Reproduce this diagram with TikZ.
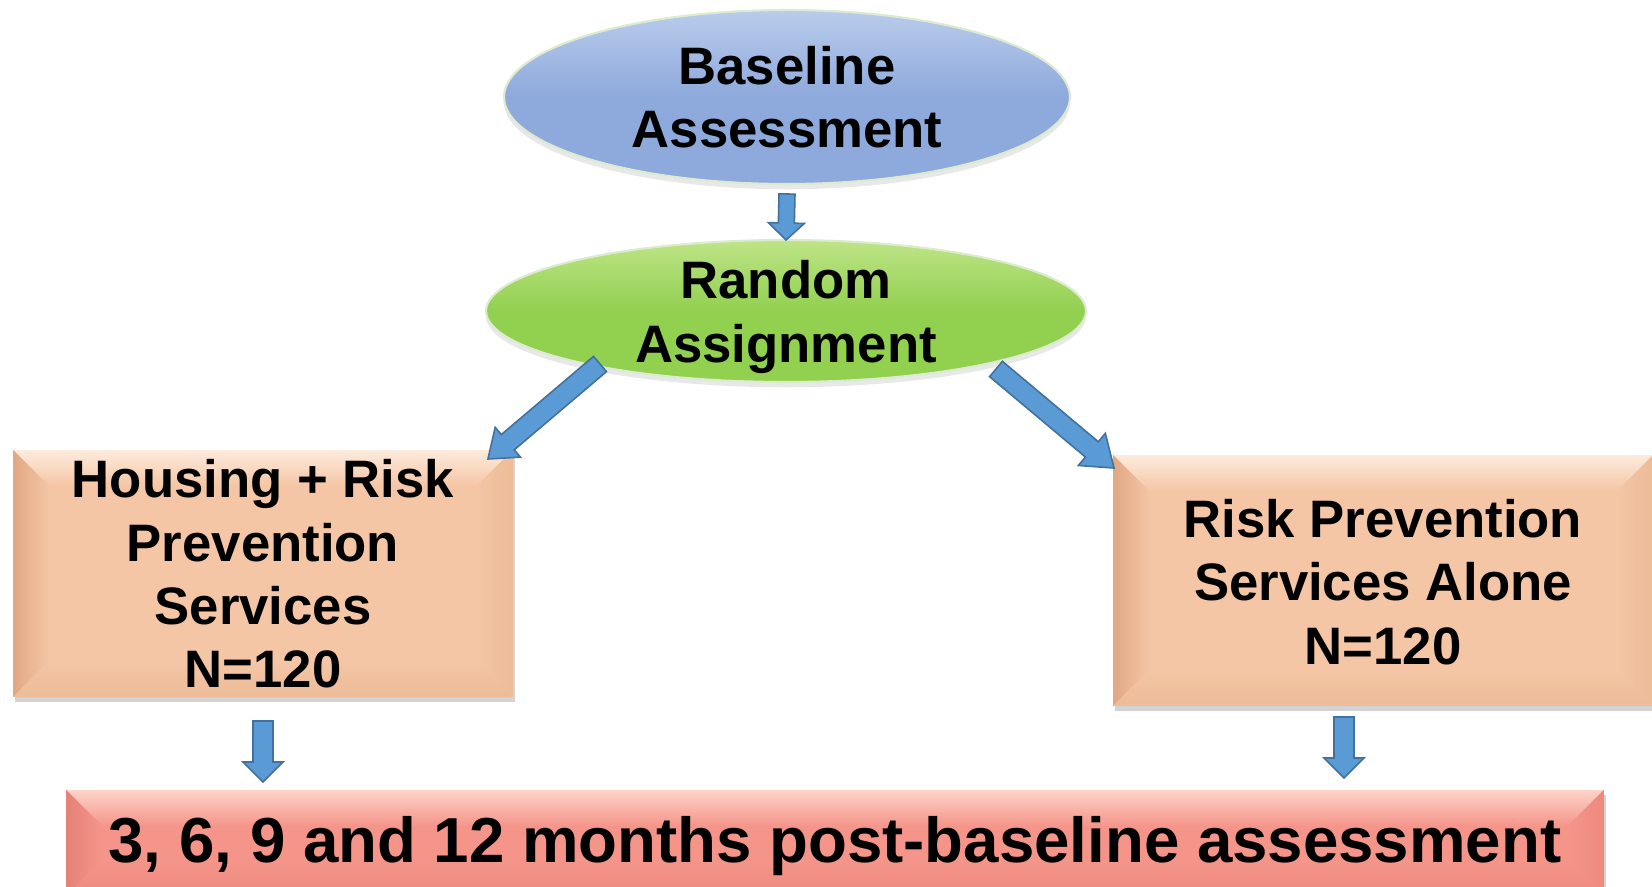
\documentclass[tikz,border=0pt]{standalone}
\usepackage{fontspec}
\setmainfont{Liberation Sans}
\usetikzlibrary{calc,shapes.geometric,shadows}

\definecolor{arrowfill}{HTML}{5B9BD5}
\definecolor{arrowline}{HTML}{41719C}
\definecolor{blueoval}{HTML}{8EA9DB}
\definecolor{bluetop}{HTML}{B9CCEC}
\definecolor{greenoval}{HTML}{92D050}
\definecolor{greentop}{HTML}{BEE487}
\definecolor{ovalrim}{HTML}{DCEAD0}
\definecolor{peach}{HTML}{F4C6A5}
\definecolor{peachlight}{HTML}{FDEBDD}
\definecolor{peachdark}{HTML}{E2A784}
\definecolor{peachside}{HTML}{EDBB98}
\definecolor{salmon}{HTML}{F5958A}
\definecolor{salmonlight}{HTML}{FDD3CA}
\definecolor{salmondark}{HTML}{E58278}
\definecolor{salmonside}{HTML}{EE897E}

\tikzset{
  oval/.style={ellipse, inner sep=0pt, outer sep=0pt, draw=ovalrim, line width=1.2pt,
    drop shadow={opacity=0.18, shadow xshift=0pt, shadow yshift=-3pt}},
  panel/.style={rectangle, inner sep=0pt, outer sep=0pt,
    drop shadow={opacity=0.35, shadow xshift=1pt, shadow yshift=-3pt}},
  lbl/.style={align=center, inner sep=0pt, font=\fontsize{30}{36}\selectfont\bfseries},
  biglbl/.style={align=center, inner sep=0pt, font=\fontsize{36.2}{42}\selectfont\bfseries},
  arrowsty/.style={fill=arrowfill, draw=arrowline, line width=0.9pt, line join=miter}
}

% block arrow: #1 tail, #2 tip, #3 shaft half width, #4 head half width, #5 head length
\newcommand\blockarr[5]{%
  \coordinate (ba-h) at ($(#2)!#5!(#1)$);
  \draw[arrowsty] ($(#1)!#3!90:(#2)$) -- ($(ba-h)!#3!90:(#2)$)
    -- ($(ba-h)!#4!90:(#2)$) -- (#2) -- ($(ba-h)!#4!-90:(#2)$)
    -- ($(ba-h)!#3!-90:(#2)$) -- ($(#1)!#3!-90:(#2)$) -- cycle;}

% bevelled face over a rectangular node: #1 node, #2 base, #3 top, #4 left, #5 right/bottom
\newcommand\bevel[5]{%
  \shade[top color=#3, bottom color=#2]
    (#1.north west) -- (#1.north east) -- ($(#1.north east)+(-36,36)$)
    -- ($(#1.north west)+(36,36)$) -- cycle;
  \shade[left color=#4, right color=#2]
    (#1.north west) -- ($(#1.north west)+(36,36)$) -- ($(#1.south west)+(36,-36)$)
    -- (#1.south west) -- cycle;
  \shade[left color=#2, right color=#5]
    (#1.north east) -- ($(#1.north east)+(-36,36)$) -- ($(#1.south east)+(-36,-36)$)
    -- (#1.south east) -- cycle;
  \shade[top color=#2, bottom color=#5]
    (#1.south west) -- ($(#1.south west)+(36,-36)$) -- ($(#1.south east)+(-36,-36)$)
    -- (#1.south east) -- cycle;}

\begin{document}
\begin{tikzpicture}[x=0.02cm, y=-0.02cm]
\useasboundingbox (0,0) rectangle (1652,886);
\clip (0,0) rectangle (1652,886);

% ovals
\node[oval, minimum width=11.32cm, minimum height=3.48cm,
      top color=bluetop, bottom color=blueoval, middle color=blueoval] (base) at (787,97) {};
\node[lbl] (basetxt) at (787,97) {Baseline\\Assessment};

\node[oval, minimum width=12.0cm, minimum height=2.84cm,
      top color=greentop, bottom color=greenoval, middle color=greenoval] (rand) at (786,311) {};
\node[lbl] (randtxt) at (786,317) {Random\\Assignment};

% study arms
\node[panel, fill=peach, minimum width=10cm, minimum height=4.94cm] (lbox) at (263,573.5) {};
\bevel{lbox}{peach}{peachlight}{peachdark}{peachside}
\node[lbl] (lboxtxt) at (263,574) {Housing + Risk\\Prevention\\Services\\N=120};

\node[panel, fill=peach, minimum width=10.8cm, minimum height=5.02cm] (rbox) at (1383,580.5) {};
\bevel{rbox}{peach}{peachlight}{peachdark}{peachside}
\node[lbl] (rboxtxt) at (1383,582) {Risk Prevention\\Services Alone\\N=120};

% follow-up
\node[panel, fill=salmon, minimum width=30.76cm, minimum height=2.12cm] (follow) at (835,843) {};
\bevel{follow}{salmon}{salmonlight}{salmondark}{salmonside}
\node[biglbl] (followtxt) at (835,846) {3, 6, 9 and 12 months post-baseline assessment};

% connectors
\coordinate (a1s) at ($(base.south)+(0,10)$);
\blockarr{a1s}{rand.north}{0.16cm}{0.36cm}{0.34cm}

\coordinate (a2s) at ($(rand.center)+(-186,53)$);
\coordinate (a2e) at ($(lbox.north east)+(-25,9)$);
\blockarr{a2s}{a2e}{0.2cm}{0.39cm}{0.52cm}

\coordinate (a3s) at ($(rand.center)+(210,58)$);
\coordinate (a3e) at ($(rbox.north west)+(1,13)$);
\blockarr{a3s}{a3e}{0.2cm}{0.42cm}{0.58cm}

\coordinate (a4s) at ($(lbox.south)+(0,24)$);
\coordinate (a4e) at ($(a4s |- follow.north)+(0,-8)$);
\blockarr{a4s}{a4e}{0.2cm}{0.4cm}{0.4cm}

\coordinate (a5s) at ($(rbox.south)+(-39,11)$);
\coordinate (a5e) at ($(a5s |- follow.north)+(0,-12)$);
\blockarr{a5s}{a5e}{0.2cm}{0.4cm}{0.4cm}
\end{tikzpicture}
\end{document}
